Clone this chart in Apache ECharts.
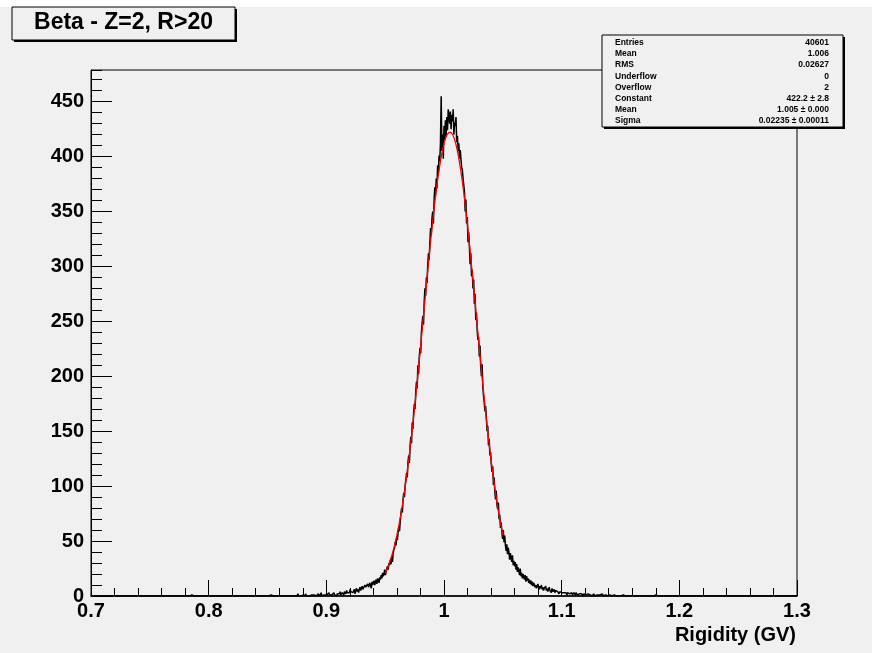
<!DOCTYPE html>
<html><head><meta charset="utf-8">
<script src="https://cdn.jsdelivr.net/npm/echarts@6/dist/echarts.min.js"></script>
<style>html,body{margin:0;padding:0;background:#ffffff}#c{width:872px;height:653px}</style>
</head><body><div id="c"></div>
<script>
// ---------------- data ----------------
const titleText = 'Beta - Z=2, R>20';
const xAxisTitle = 'Rigidity (GV)';
const xMin = 0.7, xMax = 1.3, binWidth = 0.0006, nBins = 1000;
const yMax = 478.8;

// counts of bins 300..779
const coreStartBin = 300;
const coreCounts = [
  0,1,0,0,2,0,1,0,0,1,
  0,1,1,0,0,2,1,0,1,0,
  1,0,2,1,0,1,3,0,1,1,
  2,0,1,1,2,0,1,3,1,0,
  2,1,2,0,3,1,2,1,0,2,
  3,1,2,4,1,2,3,2,1,4,
  3,2,5,3,4,2,3,6,4,3,
  5,3,4,6,2,5,7,4,6,3,
  6,8,5,4,9,6,7,5,10,8,
  9,7,11,8,10,12,9,7,13,10,
  12,14,10,13,15,11,16,14,12,17,
  15,19,16,21,18,20,24,19,22,25,
  27,24,30,28,33,29,36,31,39,42,
  44,49,46,53,51,58,62,59,68,75,
  80,76,88,94,90,101,106,112,108,122,
  128,121,137,145,139,158,152,167,175,170,
  186,195,189,210,202,218,226,221,240,248,
  255,247,268,280,273,290,285,302,312,306,
  322,335,328,344,350,339,361,372,365,380,
  371,392,385,401,396,412,455,405,420,398,
  428,415,433,418,436,424,443,438,430,441,
  425,438,432,443,420,431,428,436,413,419,
  405,412,398,406,398,390,388,380,379,368,
  350,361,339,345,322,331,318,302,312,291,
  297,280,288,266,275,251,258,242,233,236,
  218,228,209,200,211,190,182,176,168,173,
  162,150,155,137,143,128,131,120,113,118,
  101,108,95,88,96,83,79,85,70,74,
  62,67,58,52,60,49,55,46,41,47,
  38,44,40,33,39,35,31,37,28,32,
  27,31,24,29,22,26,23,19,25,18,
  21,16,20,17,15,19,13,18,14,16,
  12,15,11,14,10,13,9,12,11,8,
  10,7,9,11,8,6,9,7,10,6,
  8,5,7,6,9,5,7,4,6,8,
  5,6,3,7,4,5,6,3,5,4,
  4,3,5,2,4,3,5,3,2,4,
  3,2,4,3,1,3,2,4,2,3,
  2,3,1,2,3,2,1,3,2,1,
  2,1,2,3,1,2,1,0,2,1,
  1,2,0,1,2,1,1,0,2,1,
  0,1,2,1,0,1,1,2,0,1,
  1,0,1,0,2,1,0,1,0,1,
  0,1,0,1,1,0,0,2,0,1,
  1,0,0,1,0,1,0,0,1,0,
  0,0,1,0,1,0,0,0,1,0,
  0,1,0,0,0,1,0,0,0,0,
  1,0,0,0,0,1,0,0,1,0
];
// isolated tail entries outside the core range
const sparseBins   = [143,170,222,241,255,270,278,287,293,786,800,817];
const sparseCounts = [1,1,1,1,1,1,1,1,2,1,1,1];

// gaussian fit curve as drawn (red)
const fitX = [0.95,0.9525,0.955,0.9575,0.96,0.9625,0.965,0.9675,0.97,0.9725,0.975,0.9775,0.98,0.9825,0.985,0.9875,0.99,0.9925,0.995,0.9975,1.0,1.0025,
              1.005,1.0075,1.01,1.0125,1.015,1.0175,1.02,1.0225,1.025,1.0275,1.03,1.0325,1.035,1.0375,1.04,1.0425,1.045,1.0475,1.05];
const fitY = [20.4,26.8,34.6,44.1,55.6,69.2,85.1,103.3,123.9,146.7,171.5,198.1,225.8,254.4,282.9,310.7,337.1,361.1,382.0,399.1,411.8,419.6,
              422.2,419.6,411.8,399.1,382.0,361.1,337.1,310.7,282.9,254.4,225.8,198.1,171.5,146.7,123.9,103.3,85.1,69.2,55.6];

const statLabels = ['Entries','Mean','RMS','Underflow','Overflow','Constant','Mean','Sigma'];
const statValues = ['40601','1.006','0.02627','0','2','422.2 \u00b1 2.8','1.005 \u00b1 0.000','0.02235 \u00b1 0.00011'];

// ---------------- build ----------------
const counts = new Array(nBins).fill(0);
coreCounts.forEach((c, k) => { counts[coreStartBin + k] = c; });
sparseBins.forEach((b, k) => { counts[b] = sparseCounts[k]; });
const histData = counts.map((c, i) => [+(xMin + i * binWidth).toFixed(5), c]);
histData.push([xMax, counts[nBins - 1]]);
const fitData = fitX.map((x, i) => [x, fitY[i]]);

const FONT = 'Liberation Sans';
const BG = '#f0f0f0';

const graphics = [
  {type:'rect', z:100, shape:{x:0,y:0,width:872,height:7}, style:{fill:'#ffffff'}},
  {type:'rect', z:100, shape:{x:14,y:9,width:223,height:33}, style:{fill:'#000'}},
  {type:'rect', z:101, shape:{x:12,y:7,width:223,height:33}, style:{fill:BG, stroke:'#000', lineWidth:1}},
  {type:'rect', z:100, shape:{x:604,y:37,width:241,height:92}, style:{fill:'#000'}},
  {type:'rect', z:101, shape:{x:602,y:35,width:241,height:92}, style:{fill:BG, stroke:'#000', lineWidth:1}}
];
statLabels.forEach((lab, i) => {
  const y = 42.7 + 11.2 * i;
  graphics.push({type:'text', z:102, x:615, y:y, style:{text:lab, fill:'#000', fontFamily:FONT, fontWeight:'bold', fontSize:8.5, align:'left', verticalAlign:'middle'}});
  graphics.push({type:'text', z:102, x:829, y:y, style:{text:statValues[i], fill:'#000', fontFamily:FONT, fontWeight:'bold', fontSize:8.5, align:'right', verticalAlign:'middle'}});
});

const chart = echarts.init(document.getElementById('c'), null, {renderer:'canvas'});
chart.setOption({
  animation: false,
  backgroundColor: BG,
  textStyle: {fontFamily: FONT},
  title: {
    text: titleText, left: 123.5, top: 10, textAlign: 'center', padding: 0, z: 120,
    textStyle: {fontFamily: FONT, fontWeight: 'bold', fontSize: 23, lineHeight: 26, color: '#000'}
  },
  grid: {left: 91, right: 75, top: 70, bottom: 57, show: true, borderColor: '#000', borderWidth: 1, backgroundColor: 'transparent', containLabel: false, outerBoundsMode: 'none'},
  xAxis: {
    type: 'value', min: xMin, max: xMax, interval: 0.1,
    name: xAxisTitle, nameLocation: 'end', nameGap: -1,
    nameTextStyle: {fontFamily: FONT, fontWeight: 'bold', fontSize: 20, color: '#000', align: 'right', verticalAlign: 'top', padding: [29, 0, 0, 0]},
    axisLine: {show: true, onZero: false, lineStyle: {color: '#000', width: 1.5}},
    axisTick: {show: true, inside: true, length: 16, lineStyle: {color: '#000'}},
    minorTick: {show: true, splitNumber: 5, length: 8, lineStyle: {color: '#000'}},
    splitLine: {show: false},
    axisLabel: {fontFamily: FONT, fontWeight: 'bold', fontSize: 20, color: '#000', margin: 5, showMinLabel: true, showMaxLabel: true}
  },
  yAxis: [{
    type: 'value', min: 0, max: yMax, interval: 50,
    axisLine: {show: true, lineStyle: {color: '#000', width: 1}},
    axisTick: {show: true, inside: true, length: 21, lineStyle: {color: '#000'}},
    splitLine: {show: false},
    axisLabel: {fontFamily: FONT, fontWeight: 'bold', fontSize: 20, color: '#000', margin: 7, showMaxLabel: false}
  }, {
    type: 'value', min: 0, max: yMax, interval: 10, position: 'left', offset: 0,
    axisLine: {show: false},
    axisTick: {show: true, inside: true, length: 11, lineStyle: {color: '#000'}},
    splitLine: {show: false},
    axisLabel: {show: false}
  }],
  series: [{
    type: 'line', data: histData, step: 'end', showSymbol: false, symbol: 'none',
    sampling: null, lineStyle: {color: '#000', width: 1.5}, z: 3, clip: true, silent: true
  }, {
    type: 'line', data: fitData, smooth: 0.3, showSymbol: false, symbol: 'none',
    lineStyle: {color: '#ff0000', width: 1.3}, z: 4, clip: true, silent: true
  }],
  graphic: graphics
});
</script></body></html>
